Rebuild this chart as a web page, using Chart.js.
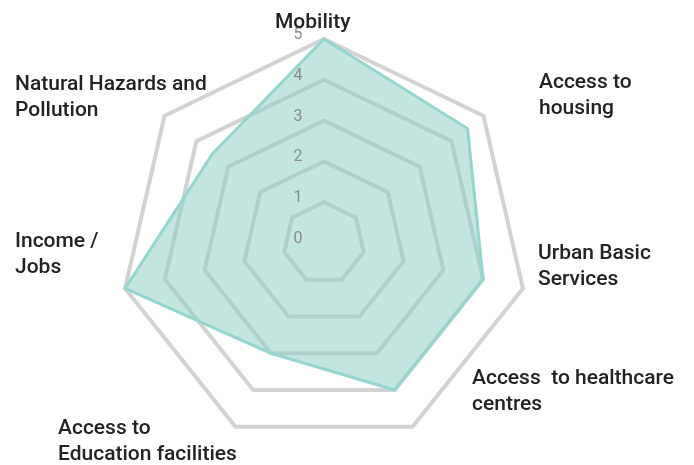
<!DOCTYPE html>
<html>
<head>
<meta charset="utf-8">
<script src="https://cdn.jsdelivr.net/npm/chart.js@4"></script>
<style>
  html, body { margin: 0; padding: 0; background: #fff; }
  #wrap { position: relative; width: 694px; height: 465px; }
</style>
</head>
<body>
<div id="wrap"><canvas id="radarChart" width="694" height="465"></canvas></div>
<script>
// Axis categories (multi-line labels as drawn in the reference)
const categories = [
  ['Mobility'],
  ['Access to', 'housing'],
  ['Urban Basic', 'Services'],
  ['Access  to healthcare', 'centres'],
  ['Access to', 'Education facilities'],
  ['Income /', 'Jobs'],
  ['Natural Hazards and', 'Pollution']
];

// Scores
const scores = [5, 4.5, 4, 4, 3, 5, 3.5];

// Radial tick values
const tickValues = [0, 1, 2, 3, 4, 5];

// Where each category label sits (left x, first baseline, optional max line width)
// labels are hand placed in the original, not on Chart.js' own point label ring
const labelSpots = [
  [275, 28],
  [539, 88],
  [538, 259],
  [472, 384, 206],
  [58, 434],
  [15, 247],
  [15, 90]
];

// Draws tick numbers slightly left of the vertical axis, plus the category labels
const labelPlugin = {
  id: 'labelPlugin',
  afterDatasetsDraw(chart) {
    const ctx = chart.ctx;
    const scale = chart.scales.r;
    ctx.save();

    ctx.font = '16px Roboto';
    ctx.fillStyle = '#8a8a8a';
    ctx.textAlign = 'center';
    ctx.textBaseline = 'middle';
    tickValues.forEach(v => {
      const y = scale.yCenter - scale.getDistanceFromCenterForValue(v) - 4;
      ctx.fillText(String(v), scale.xCenter - 26, y);
    });

    ctx.font = '500 21px Roboto';
    ctx.fillStyle = '#222222';
    ctx.textAlign = 'left';
    ctx.textBaseline = 'alphabetic';
    categories.forEach((lines, i) => {
      const [x, y, maxW] = labelSpots[i];
      lines.forEach((line, j) => {
        if (maxW) ctx.fillText(line, x, y + j * 25.5, maxW);
        else ctx.fillText(line, x, y + j * 25.5);
      });
    });

    ctx.restore();
  }
};

new Chart(document.getElementById('radarChart').getContext('2d'), {
  type: 'radar',
  data: {
    labels: categories,
    datasets: [{
      data: scores,
      backgroundColor: 'rgba(139, 203, 193, 0.5)',
      borderColor: '#94d5cf',
      borderWidth: 3,
      pointRadius: 0,
      tension: 0
    }]
  },
  options: {
    responsive: false,
    animation: false,
    devicePixelRatio: 1,
    layout: {
      padding: { left: 120, right: 166, top: 39, bottom: 18 }
    },
    plugins: {
      legend: { display: false },
      tooltip: { enabled: false }
    },
    scales: {
      r: {
        min: 0,
        max: 5,
        ticks: { stepSize: 1, display: false },
        angleLines: { display: false },
        grid: { color: '#d2d2d2', lineWidth: 4 },
        pointLabels: { display: false }
      }
    }
  },
  plugins: [labelPlugin]
});
</script>
</body>
</html>
